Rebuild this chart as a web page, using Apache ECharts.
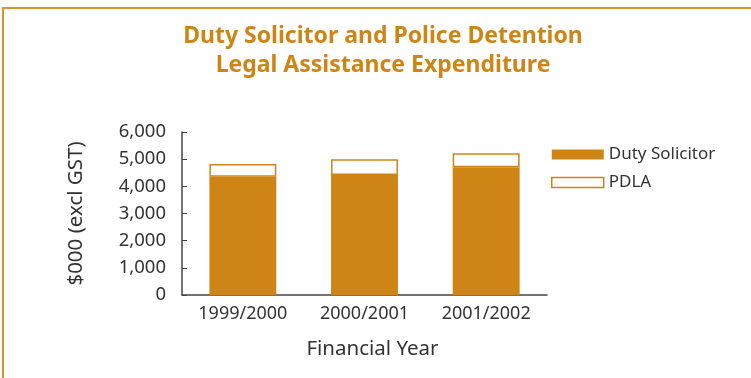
<!DOCTYPE html>
<html>
<head>
<meta charset="utf-8">
<script src="https://cdn.jsdelivr.net/npm/echarts@6/dist/echarts.min.js"></script>
<style>
  html, body { margin: 0; padding: 0; background: #fff; }
  #chart { width: 751px; height: 378px; }
</style>
</head>
<body>
<div id="chart"></div>
<script>
// Expenditure by financial year, in $000 excluding GST
const years = ['1999/2000', '2000/2001', '2001/2002'];
const dutySolicitor = [4350, 4420, 4700];
const pdla = [470, 580, 515];
const yTicks = [0, 1000, 2000, 3000, 4000, 5000, 6000];

const ORANGE = '#cf8515';
const TEXT = '#333333';
const FONT = '"Noto Sans", "Open Sans", sans-serif';

const chart = echarts.init(document.getElementById('chart'), null, { renderer: 'canvas' });

chart.setOption({
  animation: false,
  backgroundColor: '#ffffff',
  graphic: [{
    type: 'polyline',
    shape: { points: [[3, 378], [3, 8], [751, 8]] },
    style: { stroke: '#e3902a', lineWidth: 2, fill: null }
  }],
  title: {
    text: 'Duty Solicitor and Police Detention\nLegal Assistance Expenditure',
    left: 378,
    textAlign: 'center',
    top: 17,
    textStyle: {
      color: ORANGE,
      fontFamily: FONT,
      fontWeight: 'bold',
      fontSize: 23,
      lineHeight: 29
    }
  },
  legend: {
    orient: 'vertical',
    left: 551,
    top: 146,
    padding: 0,
    itemWidth: 52,
    itemHeight: 10,
    itemGap: 11,
    icon: 'rect',
    textStyle: { color: TEXT, fontFamily: FONT, fontSize: 17 },
    data: [
      { name: 'Duty Solicitor', itemStyle: { color: ORANGE, borderWidth: 0 } },
      { name: 'PDLA', itemStyle: { color: '#ffffff', borderColor: ORANGE, borderWidth: 1.5 } }
    ]
  },
  grid: { left: 182, right: 204, top: 132, bottom: 83 },
  xAxis: {
    type: 'category',
    data: years,
    name: 'Financial Year',
    nameLocation: 'middle',
    nameGap: 44,
    nameTextStyle: { color: TEXT, fontFamily: FONT, fontSize: 20.5, padding: [0, 0, 0, 16] },
    axisLine: { lineStyle: { color: '#444', width: 1.5 } },
    axisTick: { inside: true, length: 5, lineStyle: { color: '#444' } },
    axisLabel: { color: TEXT, fontFamily: FONT, fontSize: 18, margin: 10 }
  },
  yAxis: {
    type: 'value',
    min: yTicks[0],
    max: yTicks[yTicks.length - 1],
    interval: 1000,
    name: '$000 (excl GST)',
    nameLocation: 'middle',
    nameGap: 95,
    nameTextStyle: { color: TEXT, fontFamily: FONT, fontSize: 20.5 },
    splitLine: { show: false },
    axisLine: { show: true, lineStyle: { color: '#444', width: 1.5 } },
    axisTick: { show: true, inside: true, length: 5, lineStyle: { color: '#444' } },
    axisLabel: {
      color: TEXT, fontFamily: FONT, fontSize: 18.5, margin: 16,
      formatter: v => v.toLocaleString('en-US')
    }
  },
  series: [
    {
      name: 'Duty Solicitor',
      type: 'bar',
      stack: 'total',
      barWidth: '55%',
      data: dutySolicitor,
      itemStyle: { color: ORANGE }
    },
    {
      name: 'PDLA',
      type: 'bar',
      stack: 'total',
      data: pdla,
      itemStyle: { color: '#ffffff', borderColor: ORANGE, borderWidth: 1.5 }
    }
  ]
});
</script>
</body>
</html>
